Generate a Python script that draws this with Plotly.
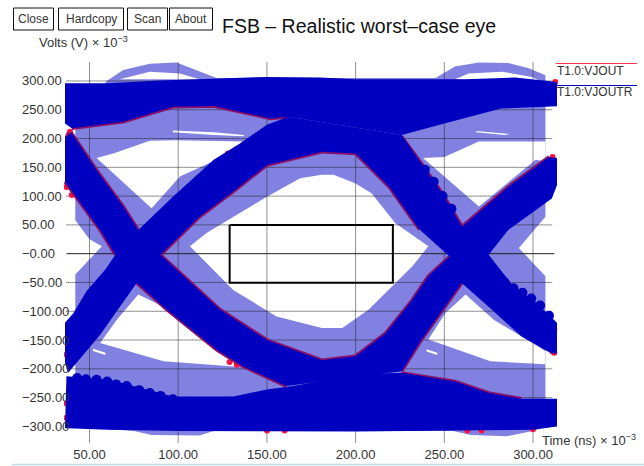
import plotly.graph_objects as go

TITLE = "FSB – Realistic worst–case eye"
BUTTONS = ["Close", "Hardcopy", "Scan", "About"]
X_TICKS = [50, 100, 150, 200, 250, 300]
X_LABELS = ["50.00", "100.00", "150.00", "200.00", "250.00", "300.00"]
Y_TICKS = [300, 250, 200, 150, 100, 50, 0, -50, -100, -150, -200, -250, -300]
Y_LABELS = ["300.00", "250.00", "200.00", "150.00", "100.00", "50.00", "−0.00", "−50.00",
            "−100.00", "−150.00", "−200.00", "−250.00", "−300.00"]
SERIES = ["T1.0:VJOUT", "T1.0:VJOUTR"]

# light envelope
env_t = [42, 42, 50, 57, 49, 42, 42, 42, 75, 85, 112, 120, 255, 265, 285, 300, 307, 307, 292, 307, 307, 297.6, 286, 269.4, 256, 245, 121.7, 112, 99, 84, 69, 59.7, 42]
env_v = [218, 58, 25, 13, -13, -36, -210, -300, -308, -315, -316, -308, -308, -315, -317, -308, -300, -39, 10, 64, 310, 322, 331, 332, 325, 305, 305, 316, 332, 330, 319, 300, 218]

# white openings in the envelope
eye_t = [106.6, 116, 150, 168.7, 181, 187.6, 200, 209, 222.4, 241, 232, 207.4, 192.5, 181, 155.5, 131]
eye_v = [13, 36, 99, 131, 137, 137, 122, 105, 53, 13, -22, -97, -129, -129, -109, -63]
ul_t = [54, 63.4, 84, 99, 136.6, 127, 101, 85]
ul_v = [166, 174, 196, 197, 195, 171, 134, 79]
ur_t = [238, 250, 269.4, 307, 307, 301.5, 269.5]
ur_v = [166, 168, 195, 195, 160, 163, 82]
ll_t = [77.5, 65.3, 56, 91.7, 135, 120, 93]
ll_v = [-71, -115, -155, -187, -197, -164, -94]
lr_t = [262, 250.6, 241, 276, 307, 307, 303, 278]
lr_v = [-71, -103, -149, -187, -192, -170, -161, -115]
dome1_t = [67, 84, 101, 112]
dome1_v = [303, 316, 313, 303]
dome2_t = [256, 263.7, 282.6, 299.4, 305]
dome2_v = [303, 313, 316, 307, 298]
streak1_t = [97, 120, 137, 137, 120, 97]
streak1_v = [214, 211, 206, 204, 206, 211]
streak2_t = [268, 284, 287, 268]
streak2_v = [211, 206, 208, 213]
streak3_t = [52, 59, 59, 52]
streak3_v = [-165, -172, -176, -169]
streak4_t = [240, 246, 246, 240]
streak4_v = [-166, -172, -176, -170]

# solid bands
top_t = [36.2, 60, 90, 150, 180, 200, 237, 262, 290, 313.5, 313.5, 300, 282, 250, 226, 162, 152, 120, 97, 69, 40, 36.2]
top_v = [296, 296, 301, 307, 306, 303, 303, 303, 306, 298, 256, 254, 252, 226, 206, 238, 235, 256.5, 255, 229, 218, 226]
m_t = [162, 226, 237, 248.8, 260, 275, 289, 301, 313.5, 313.5, 310.6, 293.5, 276.7, 259.8, 253, 236, 219, 200, 181, 150, 131, 112, 90, 76.6, 56, 38, 36.2, 36.2, 41, 48.4, 58.8, 64.6, 77.5, 97, 120, 135, 150]
m_v = [238, 206, 157, 105, 47, -2, -57, -83, -120, -173, -174, -144, -97, -51, -5, 42, 116, 174, 177, 154, 108, 64, -2, -51, -141, -207, -190, -120, -103, -65, -28, -2, 41, 99, 163, 192, 224]
n_t = [36.2, 40, 54, 69, 77.5, 90, 123.5, 150, 181, 200, 217, 232, 241, 253, 260, 286, 309, 313.5, 313.5, 310.6, 286, 275, 259.8, 246.7, 237, 226, 161, 136.7, 121.7, 93.5, 76.6, 64.6, 56, 36.2]
n_v = [203, 209, 145, 82, 41, -2, -97, -150, -185, -178, -138, -80, -39, -5, 47, 116, 168, 166, 119, 96, 41, -2, -51, -109, -150, -204, -230, -196, -167, -97, -51, -2, 41, 125]
bot_t = [36.2, 37, 61.5, 78, 97, 131, 150, 165, 200, 226, 256, 275, 293.5, 313.5, 313.5, 300, 200, 100, 60, 38]
bot_v = [-303, -213, -219, -233, -248, -248, -236, -230, -210, -207, -222, -242, -252, -252, -300, -306, -309, -308, -306, -303]
bump_t = [43, 48, 54, 60, 65, 71, 78, 84, 90, 97]
bump_v = [-216, -218, -219, -222, -227, -230, -237, -242, -247, -253]
fall_bump_t = [284, 289, 294, 299, 304, 309, 239, 244, 249, 254]
fall_bump_v = [-50, -60, -68, -78, -90, -108, 146, 125, 100, 78]

# VJOUT edges that show beside the VJOUTR bands
edge_sets = [
    ([40, 69, 97, 120, 152, 162], [218, 229, 255, 256.5, 235, 238]),
    ([90, 112, 131, 150, 181], [-2, 64, 108, 154, 177]),
    ([37, 40, 54, 69, 77.5], [207, 209, 145, 82, 41]),
    ([36.2, 56, 64.6], [125, 41, -2]),
    ([76.6, 93.5, 121.7, 136.7, 161], [-51, -97, -167, -196, -230]),
    ([90, 123.5, 150, 181, 200, 217, 232, 241, 253], [-2, -97, -150, -185, -178, -138, -80, -39, -5]),
    ([181, 200, 219, 236], [177, 174, 116, 42]),
    ([226, 237, 248.8, 260], [203, 157, 105, 47]),
    ([259.8, 246.7, 237, 226], [-51, -109, -150, -204]),
    ([260, 286, 309], [47, 116, 168]),
    ([226, 256, 275, 293.5], [-207, -222, -242, -252]),
    ([61.5, 78], [-227, -240]),
    ([232, 256], [-222, -236]),
]
spot_t = [38, 39, 37, 40, 312, 311, 311, 312.5, 37, 37, 37, 137, 133, 128, 104, 92, 85, 133, 129, 300, 160, 150, 263, 271, 312, 311]
spot_v = [204, 212, 116, 102, -130, 168, 116, 298, -175, -260, -285, 190, 182, 174, -110, -76, -64, -193, -188, -305, -307, -307, -307, -307, -172, -170]

LIGHT = "#8181e1"
DARK = "#0000c0"
WHITE = "#ffffff"

fig = go.Figure()

def poly(t, v, color, name=None):
    fig.add_trace(go.Scatter(x=t, y=v, mode="lines", fill="toself", fillcolor=color,
                             line=dict(width=0, color=color), hoverinfo="skip",
                             showlegend=False, name=name))

poly(env_t, env_v, LIGHT)
for t, v in [(eye_t, eye_v), (ul_t, ul_v), (ur_t, ur_v), (ll_t, ll_v), (lr_t, lr_v), (dome1_t, dome1_v),
             (dome2_t, dome2_v), (streak1_t, streak1_v), (streak2_t, streak2_v),
             (streak3_t, streak3_v), (streak4_t, streak4_v)]:
    poly(t, v, WHITE)

# grid
grid_style = dict(color="#222222", width=1, dash="1px,1px")
for tk in X_TICKS:
    fig.add_trace(go.Scatter(x=[tk, tk], y=[-328, 333], mode="lines", line=grid_style, hoverinfo="skip", showlegend=False))
for tk in Y_TICKS:
    if tk != 0:
        fig.add_trace(go.Scatter(x=[37, 311], y=[tk, tk], mode="lines", line=grid_style, hoverinfo="skip", showlegend=False))
fig.add_trace(go.Scatter(x=[37, 312], y=[0, 0], mode="lines", line=dict(color="#222222", width=1), hoverinfo="skip", showlegend=False))

# keep-out box
fig.add_trace(go.Scatter(x=[129, 221, 221, 129, 129], y=[50, 50, -50.5, -50.5, 50], mode="lines",
                         line=dict(color="#000000", width=2), hoverinfo="skip", showlegend=False))

# VJOUT
fig.add_trace(go.Scatter(x=spot_t, y=spot_v, mode="markers", marker=dict(color="#ff1040", size=6),
                         name=SERIES[0], hoverinfo="skip", showlegend=False))
for t, v in edge_sets:
    fig.add_trace(go.Scatter(x=t, y=v, mode="lines", line=dict(color="#8a1068", width=3.5),
                             hoverinfo="skip", showlegend=False))

# VJOUTR
for t, v in [(top_t, top_v), (m_t, m_v), (n_t, n_v), (bot_t, bot_v)]:
    poly(t, v, DARK, SERIES[1])
fig.add_trace(go.Scatter(x=bump_t + fall_bump_t, y=bump_v + fall_bump_v, mode="markers",
                         marker=dict(color=DARK, size=10), hoverinfo="skip", showlegend=False))

FONT = "Liberation Sans"
W_PLOT, H_PLOT, L, B_PX = 496, 390, 64, 445
def X(px):
    return (px - L) / W_PLOT
def Y(py):
    return (B_PX - py) / H_PLOT

ann = []
for tk, lab in zip(Y_TICKS, Y_LABELS):
    ann.append(dict(x=X(20), xref="paper", y=tk, yref="y", text=lab, showarrow=False, xanchor="left",
                    font=dict(family=FONT, size=13, color="#333333")))
btn_x = [33.5, 91, 147.5, 191]
for x, lab in zip(btn_x, BUTTONS):
    ann.append(dict(x=X(x), xref="paper", y=Y(18.5), yref="paper", xanchor="center", yanchor="middle", text=lab, showarrow=False,
                    font=dict(family=FONT, size=12, color="#333333")))
ann.append(dict(x=X(220), xref="paper", y=Y(26), yref="paper", xanchor="left", yanchor="middle", text=TITLE,
                showarrow=False, font=dict(family=FONT, size=19.5, color="#111111")))
ann.append(dict(x=X(37), xref="paper", y=Y(42), yref="paper", xanchor="left", yanchor="middle",
                text="Volts (V) × 10<sup>−3</sup>", showarrow=False, font=dict(family=FONT, size=13, color="#333333")))
ann.append(dict(x=X(540), xref="paper", y=Y(440), yref="paper", xanchor="left", yanchor="middle",
                text="Time (ns) × 10<sup>−3</sup>", showarrow=False, font=dict(family=FONT, size=13, color="#333333")))
ann.append(dict(x=X(555), xref="paper", y=Y(71), yref="paper", xanchor="left", yanchor="middle",
                text=SERIES[0], showarrow=False, font=dict(family=FONT, size=12, color="#333333")))
ann.append(dict(x=X(555), xref="paper", y=Y(92), yref="paper", xanchor="left", yanchor="middle",
                text=SERIES[1], showarrow=False, font=dict(family=FONT, size=12, color="#333333")))

def px_rect(x0, y0, x1, y1):
    return dict(type="rect", xref="paper", yref="paper", x0=X(x0), x1=X(x1), y0=Y(y0), y1=Y(y1),
                line=dict(color="#111111", width=1))

shapes = [px_rect(13.5, 8, 53.5, 30), px_rect(58.5, 8, 123.5, 30), px_rect(127.5, 8, 167.5, 30), px_rect(169.5, 8, 212.5, 30)]
shapes.append(dict(type="line", xref="paper", yref="paper", x0=X(556), x1=X(637), y0=Y(63.5), y1=Y(63.5),
                   line=dict(color="#ff3050", width=1)))
shapes.append(dict(type="line", xref="paper", yref="paper", x0=X(556), x1=X(637), y0=Y(85.5), y1=Y(85.5),
                   line=dict(color="#0000c0", width=1)))
shapes.append(dict(type="line", xref="paper", yref="paper", x0=X(12), x1=X(644), y0=Y(464.5), y1=Y(464.5),
                   line=dict(color="#b8dce8", width=1.5)))

fig.update_layout(
    width=644, height=466, margin=dict(l=64, r=84, t=55, b=21), autosize=False,
    paper_bgcolor="white", plot_bgcolor="white", showlegend=False,
    annotations=ann, shapes=shapes,
    font=dict(family=FONT),
    xaxis=dict(range=[35.63, 315.2], tickmode="array", tickvals=X_TICKS, ticktext=X_LABELS, showgrid=False,
               zeroline=False, showline=False, ticks="", automargin=False,
               tickfont=dict(family=FONT, size=13, color="#333333")),
    yaxis=dict(range=[-332.3, 345.1], tickmode="array", tickvals=Y_TICKS, showticklabels=False, showgrid=False,
               zeroline=False, showline=False, ticks="", automargin=False),
)
fig.write_html("out.html", config={"displayModeBar": False},
               post_script="document.body.style.margin='0';document.documentElement.style.overflow='hidden';")
